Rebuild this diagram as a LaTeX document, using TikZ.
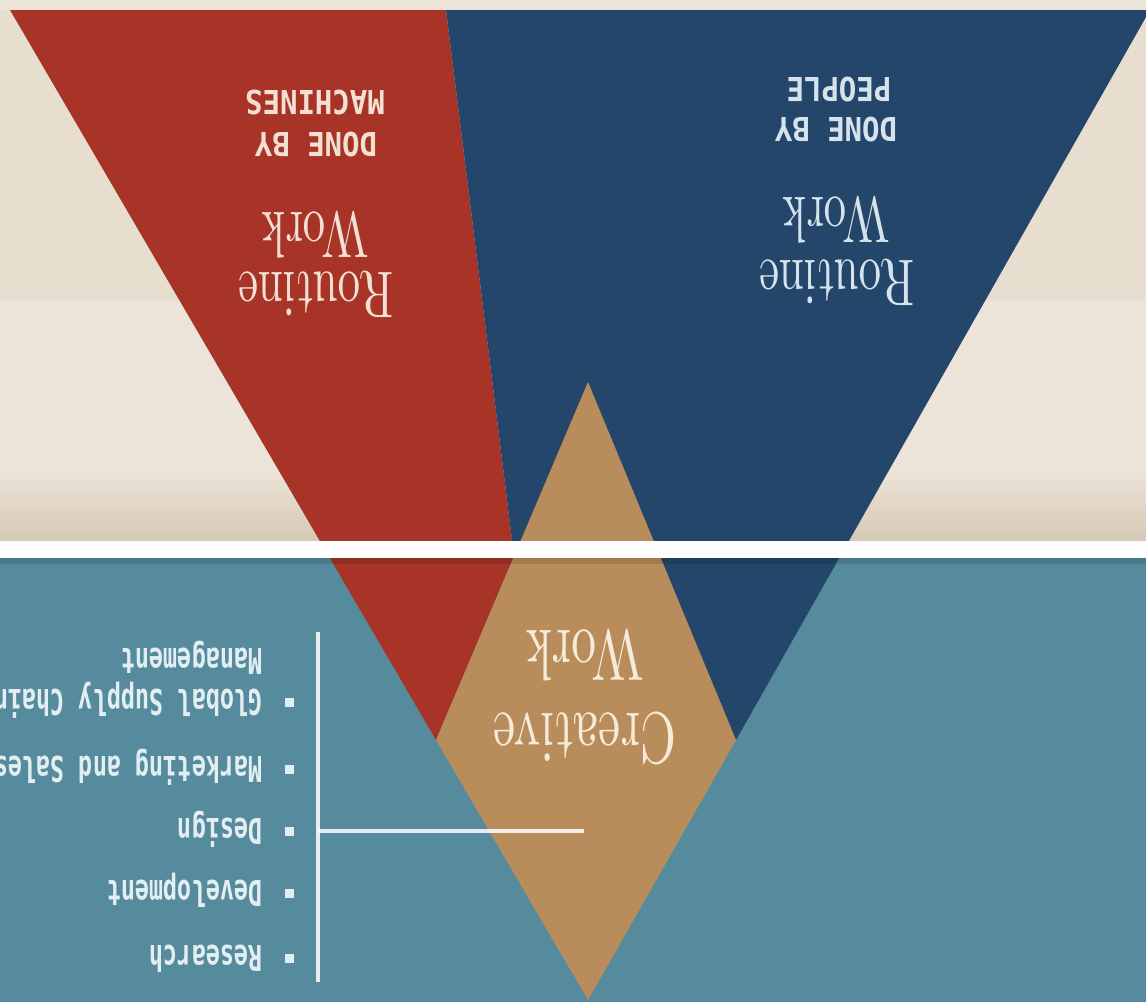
\documentclass[tikz,border=0pt]{standalone}
\usepackage{fontspec}
\usepackage{tikz}
\newfontfamily\titlefont{lmroman10-regular.otf}[FakeStretch=0.68]
\newfontfamily\capsfont{DejaVu Sans Mono}[FakeStretch=0.88]
\newfontfamily\listfont{DejaVu Sans Mono}[FakeStretch=0.66]
\definecolor{beige}{HTML}{E8DED0}
\definecolor{beigelight}{HTML}{ECE4D8}
\definecolor{beigedark}{HTML}{D6C9B6}
\definecolor{seateal}{HTML}{558B9C}
\definecolor{machinered}{HTML}{A83427}
\definecolor{peopleblue}{HTML}{24466A}
\definecolor{creativetan}{HTML}{B98D5B}
\definecolor{redtext}{HTML}{F4DFD4}
\definecolor{bluetext}{HTML}{D6E3EC}
\definecolor{tantext}{HTML}{F6EAD8}
\definecolor{listtext}{HTML}{E2EEF1}
\tikzset{
  worktitle/.style={rotate=180, anchor=base, inner sep=0pt, font=\titlefont\fontsize{33}{36}\selectfont},
  tagline/.style={rotate=180, anchor=base, inner sep=0pt, font=\capsfont\bfseries\fontsize{16.5}{18}\selectfont},
  listitem/.style={rotate=180, anchor=base west, inner sep=0pt, text=listtext, font=\listfont\bfseries\fontsize{17.8}{20}\selectfont},
  bulletbox/.style={fill=listtext, minimum size=4.5pt, inner sep=0pt},
  guide/.style={draw=white, draw opacity=0.85, line width=1.6pt}
}
\begin{document}
\begin{tikzpicture}[x=0.5pt,y=-0.5pt]
\useasboundingbox (0,0) rectangle (1146,1002);
\fill[beige] (0,0) rectangle (1146,300);
\fill[beigelight] (0,300) rectangle (1146,541);
\shade[top color=beigelight, bottom color=beigedark] (0,470) rectangle (1146,541);
\fill[beigelight] (0,0) rectangle (1146,10);
\fill[seateal] (0,558) rectangle (1146,1002);
\fill[machinered] (10,10) -- (446,10) -- (514,556) -- (436,740) -- cycle;
\fill[peopleblue] (446,10) -- (1150,10) -- (736,740) -- (514,556) -- cycle;
\fill[creativetan] (588,382) -- (736,740) -- (588,1000) -- (436,740) -- cycle;
\fill[white!98!beige] (0,541) rectangle (1146,558);
\fill[black, opacity=0.12] (0,558) rectangle (1146,564);

\node[worktitle, text=redtext] (redRoutine) at (316,272) {Routine};
\node[worktitle, text=redtext] (redWork) at (315,212) {Work};
\node[tagline, text=redtext] (redDone) at (316,132) {DONE BY};
\node[tagline, text=redtext] (redMachines) at (315,90) {MACHINES};

\node[worktitle, text=bluetext] (blueRoutine) at (837,260) {Routine};
\node[worktitle, text=bluetext] (blueWork) at (836,197) {Work};
\node[tagline, text=bluetext] (blueDone) at (836,117) {DONE BY};
\node[tagline, text=bluetext] (bluePeople) at (839,77) {PEOPLE};

\node[worktitle, text=tantext, font=\titlefont\fontsize{36.5}{40}\selectfont] (creative) at (585,713) {Creative};
\node[worktitle, text=tantext, font=\titlefont\fontsize{36.5}{40}\selectfont] (creativeWork) at (585,630) {Work};

\foreach \y/\txt [count=\i] in {702/Global Supply Chain, 769/Marketing and Sales, 831/Design, 893/Development, 958/Research}{
  \node[bulletbox] (b\i) at (289,\y) {};
  \node[listitem] (item\i) at (263,\y-13) {\txt};
}
\node[listitem] (item1b) at (263,648) {Management};

\coordinate (brTop) at (318,632);
\coordinate (brBot) at (318,982);
\coordinate (brMid) at (318,831);
\coordinate (brEnd) at (584,831);
\draw[guide] (brTop) -- (brBot);
\draw[guide] (brMid) -- (brEnd);
\end{tikzpicture}
\end{document}
